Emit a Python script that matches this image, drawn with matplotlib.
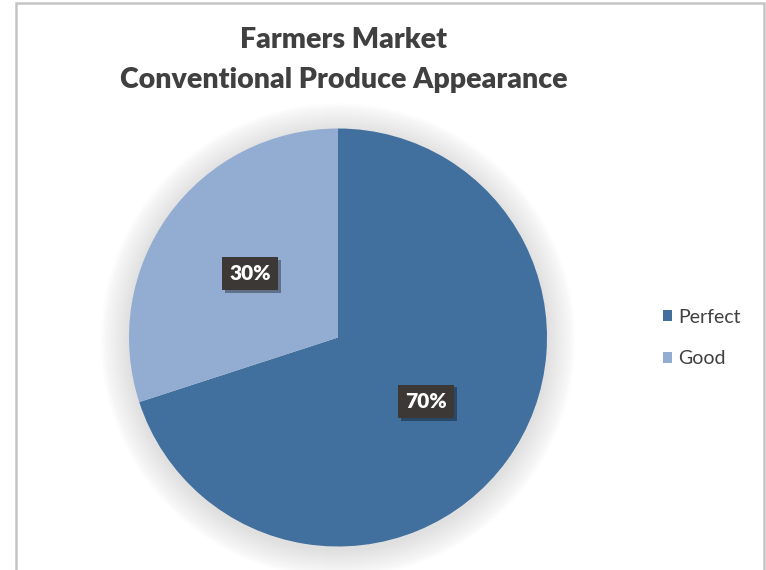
import matplotlib.pyplot as plt
import matplotlib.patheffects as pe
from matplotlib.patches import Circle, Rectangle

plt.rcParams['font.family'] = ['Lato', 'DejaVu Sans']

# chart data
categories = ['Perfect', 'Good']
shares = [70, 30]
colors = ['#41709F', '#93ADD2']
title = 'Farmers Market\nConventional Produce Appearance'

W, H = 766, 570
fig = plt.figure(figsize=(W / 100, H / 100), dpi=100)
ax = fig.add_axes([0, 0, 1, 1])
ax.set_xlim(0, W)
ax.set_ylim(0, H)
ax.set_aspect('equal')
ax.axis('off')

# outer frame of the chart area
ax.add_patch(Rectangle((16, -5), 748, H + 2, fill=False, ec='#c4c4c4', lw=1.8))

cx, cy, r = 338, H - 337.5, 209

# soft glow around the pie
for i in range(14):
    ax.add_patch(Circle((cx, cy - 3), r + 2 + i * 2.0, color='#b8b8b8',
                        alpha=0.03, lw=0, zorder=1))

wedges, texts, autotexts = ax.pie(
    shares, colors=colors, startangle=90, counterclock=False,
    center=(cx, cy), radius=r, autopct='%d%%', pctdistance=0.52,
    wedgeprops=dict(lw=0), frame=True)
ax.set_xlim(0, W)
ax.set_ylim(0, H)
ax.axis('off')
for w in wedges:
    w.set_zorder(2)

for t in autotexts:
    t.set_color('white')
    t.set_fontsize(15)
    t.set_fontweight('heavy')
    t.set_zorder(5)
    t.set_bbox(dict(boxstyle='square,pad=0.35', fc='#3b3836', ec='none'))
    t.get_bbox_patch().set_path_effects(
        [pe.withSimplePatchShadow(offset=(2, -2), shadow_rgbFace='black', alpha=0.35)])

fig.text(344 / W, 1 - 60 / H, title, ha='center', va='center', fontsize=20.5,
         fontweight='heavy', color='#404040', linespacing=1.65)

leg = ax.legend(wedges, categories, loc='center left',
                bbox_to_anchor=(645 / W, 1 - 338 / H), frameon=False,
                fontsize=14, handlelength=0.5, handleheight=0.5,
                handletextpad=0.3, labelspacing=1.25, labelcolor='#404040')

fig.savefig('out.png', dpi=100, facecolor='white')
